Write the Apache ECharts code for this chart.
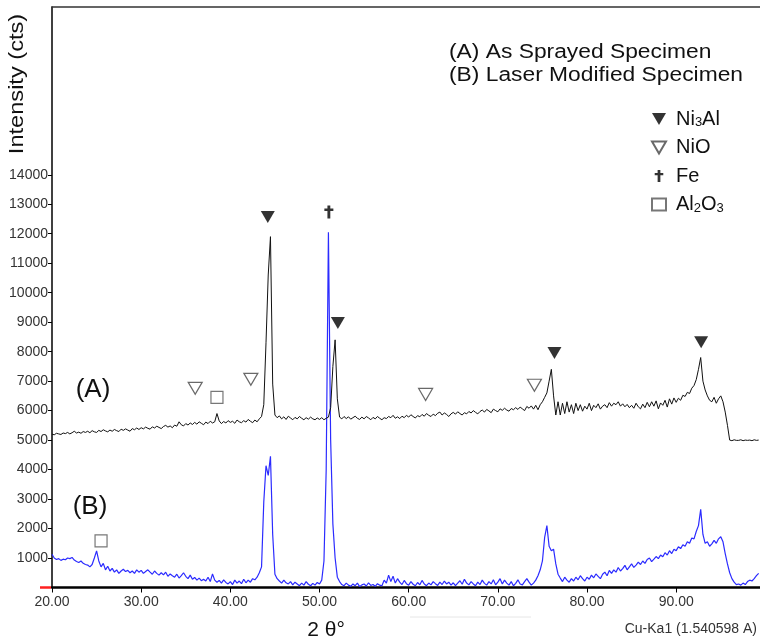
<!DOCTYPE html>
<html>
<head>
<meta charset="utf-8">
<script src="https://cdn.jsdelivr.net/npm/echarts@6/dist/echarts.min.js"></script>
<style>html,body{margin:0;padding:0;background:#fff}#c{width:760px;height:640px}</style>
</head>
<body>
<div id="c"></div>
<script>
// 2-theta sampling grid (degrees): start and step of the diffractometer scan
const thetaStart = 20.0;
const thetaStep = 0.25;

// (A) As sprayed specimen, counts
const countsA = [
5200,5180,5230,5210, 5190,5240,5220,5260, 5210,5250,5300,5240, 5270,5230,5290,5260,
5300,5250,5320,5280, 5260,5330,5290,5350, 5310,5280,5340,5300, 5360,5320,5290,5370,
5330,5380,5340,5300, 5390,5350,5410,5360, 5420,5380,5440,5400, 5370,5450,5410,5470,
5430,5390,5460,5500, 5440,5480,5420,5510, 5470,5620,5520,5480, 5560,5510,5580,5530,
5600,5540,5620,5570, 5520,5610,5560,5640, 5580,5620,5900,5650, 5560,5630,5580,5660,
5600,5640,5570,5680, 5620,5590,5660,5610, 5700,5640,5590,5680, 5620,5720,5800,6200,
8300,10600,11900,6900, 5850,5760,5820,5720, 5790,5700,5810,5750, 5690,5770,5720,5800,
5740,5690,5760,5710, 5780,5720,5690,5750, 5700,5760,5690,5740, 5780,6100,7500,8400,
6400,5780,5720,5800, 5730,5790,5710,5760, 5810,5740,5700,5780, 5720,5800,5750,5690,
5770,5720,5800,5740, 5690,5760,5730,5800, 5760,5840,5740,5790, 5730,5810,5760,5840,
5780,5860,5800,5750, 5830,5790,5870,5810, 5900,5840,5800,5880, 5830,5910,5950,5850,
5920,5870,5800,5890, 5940,5880,5960,5900, 5850,5930,5890,5970, 5920,6000,5940,5890,
5970,6020,5950,6040, 5990,5930,6050,6000, 5960,6060,6010,6080, 6020,5980,6070,6030,
6100,6040,6120,6060, 6000,6140,6080,6160, 6050,6180,6030,6200, 6300,6450,6600,7000,
7400,6500,5850,6300, 5850,6250,5900,6300, 5950,6200,5900,6250, 6000,6200,5980,6150,
6050,6250,6000,6180, 6100,6230,6050,6150, 6200,6100,6270,6150, 6250,6200,6300,6150,
6230,6130,6210,6100, 6180,6080,6250,6130, 6060,6220,6100,6280, 6130,6300,6150,6330,
6060,6260,6180,6350, 6120,6400,6220,6430, 6280,6420,6350,6520, 6480,6620,6580,6760,
6850,7050,7400,7800, 7000,6700,6500,6350, 6300,6450,6250,6400, 6500,6300,5950,5500,
5000,4980,5010,4990, 4990,5010,4980,5000, 4990,5000,4980,5010, 4990,5000
];

// (B) Laser modified specimen, counts
const countsB = [
1130,1000,950,980, 920,960,940,1000, 980,1020,930,880, 850,900,820,780,
760,700,780,1000, 1240,900,700,820, 600,720,560,650, 520,600,480,560,
620,540,580,500, 560,480,600,520, 580,480,540,600, 520,450,560,480,
420,500,430,520, 380,460,400,350, 450,320,400,500, 380,300,420,280,
340,250,320,230, 280,220,350,200, 460,250,180,240, 150,260,170,120,
200,100,250,150, 220,130,280,160, 250,180,300,260, 350,500,700,2900,
4130,3800,4450,1800, 450,300,220,150, 250,160,120,200, 90,180,120,60,
150,80,200,110, 60,140,80,170, 120,250,900,4000, 12050,5000,2150,1000,
350,200,100,60, 150,80,40,120, 60,150,30,90, 120,50,160,70,
100,40,130,80, 60,250,150,420, 200,380,150,300, 180,100,240,130,
80,200,110,60, 170,90,240,120, 60,150,90,200, 130,70,180,100,
220,120,180,80, 160,60,150,230, 110,280,150,90, 200,120,60,180,
100,250,140,80, 200,120,260,90, 180,300,120,250, 150,80,200,60,
140,260,120,90, 200,300,180,80, 150,250,400,600, 900,1700,2100,1400,
1250,1300,800,450, 320,200,350,250, 180,300,220,350, 260,400,300,220,
350,280,420,330, 460,380,300,450, 520,400,580,480, 600,520,680,560,
640,750,600,700, 800,680,760,860, 780,900,820,950, 1000,880,960,1050,
980,1100,1040,1180, 1100,1250,1150,1300, 1250,1380,1320,1450, 1400,1550,1500,1680,
1650,1900,2100,2650, 1800,1500,1550,1400, 1480,1600,1500,1650, 1720,1550,1150,800,
500,300,180,100, 120,80,150,100, 200,250,220,300, 400,480
];

// Phase markers [2theta, counts]
const peaksNi3Al = [[44.2, 12570], [52.06, 8970], [76.35, 7950], [92.8, 8320]];
const peaksNiO = [[36.06, 6755], [42.3, 7060], [61.9, 6550], [74.1, 6860]];
const peaksFe = [[51.05, 12740]];
const peaksAl2O3 = [[38.5, 6450], [25.5, 1580]];

// Axis ticks
const xTicks = [20, 30, 40, 50, 60, 70, 80, 90];
const yTicks = [1000, 2000, 3000, 4000, 5000, 6000, 7000, 8000, 9000, 10000, 11000, 12000, 13000, 14000];

const xMin = 20, xMax = 99.4, yMin = 0, yMax = 19690;

const seriesA = countsA.map((v, i) => [thetaStart + i * thetaStep, v]);
const seriesB = countsB.map((v, i) => [thetaStart + i * thetaStep, v]);

const FONT = 'Liberation Sans, Arial, sans-serif';
const DOWN_TRI = 'path://M0,0 L14,0 L7,12 Z';
const DAGGER = 'path://M3.4,0 L6.6,0 L6.6,3.4 L10,3.4 L10,6 L6.6,6 L6.6,14 L3.4,14 L3.4,6 L0,6 L0,3.4 L3.4,3.4 Z';
const chart = echarts.init(document.getElementById('c'), null, {renderer: 'canvas'});

const legendNames = {
  'Ni3Al': '{n|Ni}{s|3}{n|Al}',
  'NiO': '{n|NiO}',
  'Fe': '{n|Fe}',
  'Al2O3': '{n|Al}{s|2}{n|O}{s|3}'
};

chart.setOption({
  animation: false,
  backgroundColor: '#fff',
  grid: {left: 52, right: 0, top: 7, bottom: 52.5, containLabel: false},
  xAxis: [{
    type: 'value', min: xMin, max: xMax, interval: 10,
    axisLine: {show: true, lineStyle: {color: '#000', width: 2.5}},
    axisTick: {show: true, length: 5, customValues: xTicks, lineStyle: {color: '#000', width: 1}},
    axisLabel: {customValues: xTicks, formatter: v => v.toFixed(2), fontFamily: FONT, fontSize: 14, color: '#333', margin: 8},
    splitLine: {show: false}
  }, {
    type: 'value', min: xMin, max: xMax, position: 'top',
    axisLine: {show: true, lineStyle: {color: '#333', width: 1.5}},
    axisTick: {show: false}, axisLabel: {show: false}, splitLine: {show: false}
  }],
  yAxis: {
    type: 'value', min: yMin, max: yMax, interval: 1000,
    axisLine: {show: true, lineStyle: {color: '#000', width: 1.5}},
    axisTick: {show: true, length: 4, customValues: yTicks, lineStyle: {color: '#000', width: 1}},
    axisLabel: {customValues: yTicks, formatter: v => String(v), fontFamily: FONT, fontSize: 14, color: '#333', margin: 4},
    splitLine: {show: false}
  },
  legend: {
    orient: 'vertical', left: 646, top: 104, itemWidth: 14, itemHeight: 12, itemGap: 8.5,
    data: ['Ni3Al', 'NiO', 'Fe', 'Al2O3'],
    formatter: name => legendNames[name],
    textStyle: {
      fontFamily: FONT, fontSize: 20, color: '#111', padding: [0, 0, 0, 5],
      rich: {
        n: {fontFamily: FONT, fontSize: 20, color: '#111', lineHeight: 20},
        s: {fontFamily: FONT, fontSize: 13, color: '#111', lineHeight: 12, verticalAlign: 'bottom'}
      }
    },
    selectedMode: false
  },
  series: [
    {name: 'A', type: 'line', data: seriesA, showSymbol: false, symbol: 'none',
     lineStyle: {color: '#111', width: 1}, z: 3},
    {name: 'B', type: 'line', data: seriesB, showSymbol: false, symbol: 'none',
     lineStyle: {color: '#2b2bff', width: 1.2}, z: 2},
    {name: 'Ni3Al', type: 'scatter', data: peaksNi3Al, symbol: DOWN_TRI,
     symbolSize: [14, 12], itemStyle: {color: '#000'}, z: 5},
    {name: 'NiO', type: 'scatter', data: peaksNiO, symbol: DOWN_TRI,
     symbolSize: [14, 12], itemStyle: {color: '#fff', borderColor: '#444', borderWidth: 1.2}, z: 5},
    {name: 'Fe', type: 'scatter', data: peaksFe, symbol: DAGGER,
     symbolSize: [9, 13], itemStyle: {color: '#000'}, z: 5},
    {name: 'Al2O3', type: 'scatter', data: peaksAl2O3, symbol: 'rect',
     symbolSize: 12, itemStyle: {color: '#fff', borderColor: '#555', borderWidth: 1.2}, z: 5}
  ],
  graphic: [
    {type: 'text', x: 17, y: 84, rotation: Math.PI / 2, scaleX: 1.18,
     style: {text: 'Intensity (cts)', fontFamily: FONT, fontSize: 20, fill: '#111', textAlign: 'center', textVerticalAlign: 'middle'}},
    {type: 'text', x: 326, y: 630,
     style: {text: '2 θ°', fontFamily: FONT, fontSize: 21, fill: '#111', textAlign: 'center', textVerticalAlign: 'middle'}},
    {type: 'text', x: 757, y: 629,
     style: {text: 'Cu-Ka1 (1.540598 A)', fontFamily: FONT, fontSize: 14, fill: '#333', textAlign: 'right', textVerticalAlign: 'middle'}},
    {type: 'text', x: 449, y: 52, scaleX: 1.14,
     style: {text: '(A) As Sprayed Specimen', fontFamily: FONT, fontSize: 20, fill: '#111', textAlign: 'left', textVerticalAlign: 'middle'}},
    {type: 'text', x: 449, y: 75, scaleX: 1.14,
     style: {text: '(B) Laser Modified Specimen', fontFamily: FONT, fontSize: 20, fill: '#111', textAlign: 'left', textVerticalAlign: 'middle'}},
    {type: 'text', x: 93, y: 390,
     style: {text: '(A)', fontFamily: FONT, fontSize: 26, fill: '#111', textAlign: 'center', textVerticalAlign: 'middle'}},
    {type: 'text', x: 90, y: 507,
     style: {text: '(B)', fontFamily: FONT, fontSize: 26, fill: '#111', textAlign: 'center', textVerticalAlign: 'middle'}},
    {type: 'line', shape: {x1: 40, y1: 587.5, x2: 51, y2: 587.5}, style: {stroke: '#ff2020', lineWidth: 2.5}, z: 10},
    {type: 'line', shape: {x1: 410, y1: 617, x2: 531, y2: 617}, style: {stroke: '#e6e6e6', lineWidth: 1}}
  ]
});
</script>
</body>
</html>
